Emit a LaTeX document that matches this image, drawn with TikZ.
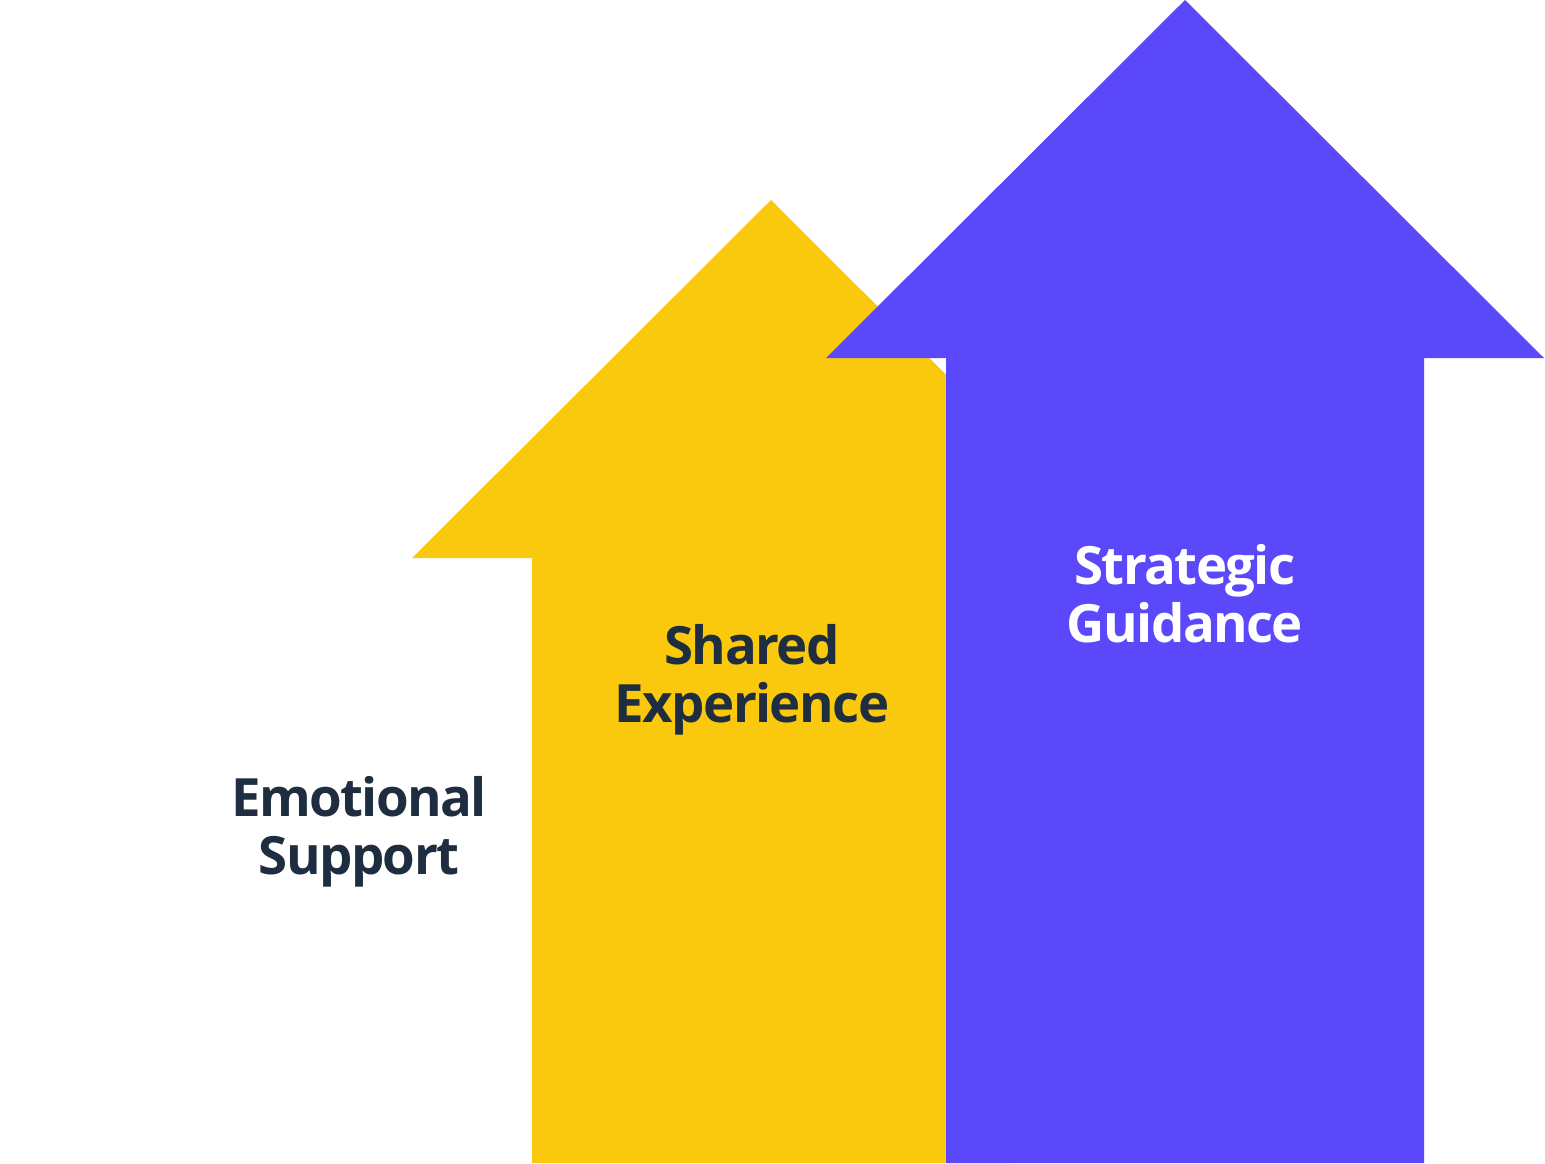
\documentclass[tikz,border=0pt]{standalone}
\usepackage{fontspec}
\setmainfont{Open Sans}
\usetikzlibrary{positioning}
\definecolor{arryellow}{RGB}{250,200,13}
\definecolor{arrpurple}{RGB}{91,72,250}
\definecolor{txtnavy}{RGB}{30,45,64}
\begin{document}
\begin{tikzpicture}[x=0.01cm, y=-0.01cm,
  label/.style={font=\fontsize{15}{16.5}\selectfont\bfseries\addfontfeatures{LetterSpace=-3},
    align=center, inner sep=0pt},
  arrowfill/.style={draw=none}]
\useasboundingbox (0,0) rectangle (1545,1163);
% Yellow arrow
\fill[arryellow, arrowfill] (771,200) -- (1130,558) -- (1010,558) -- (1010,1163)
  -- (532,1163) -- (532,558) -- (412,558) -- cycle;
% Purple arrow
\fill[arrpurple, arrowfill] (1185,0) -- (1544,358) -- (1424,358) -- (1424,1163)
  -- (946,1163) -- (946,358) -- (826,358) -- cycle;
% Labels
\node[label, text=txtnavy] (emo) at (359,832) {Emotional\\Support};
\node[label, text=txtnavy] (shared) at (752,680) {Shared\\Experience};
\node[label, text=white] (strat) at (1185,594) {Strategic\\Guidance};
\end{tikzpicture}
\end{document}
